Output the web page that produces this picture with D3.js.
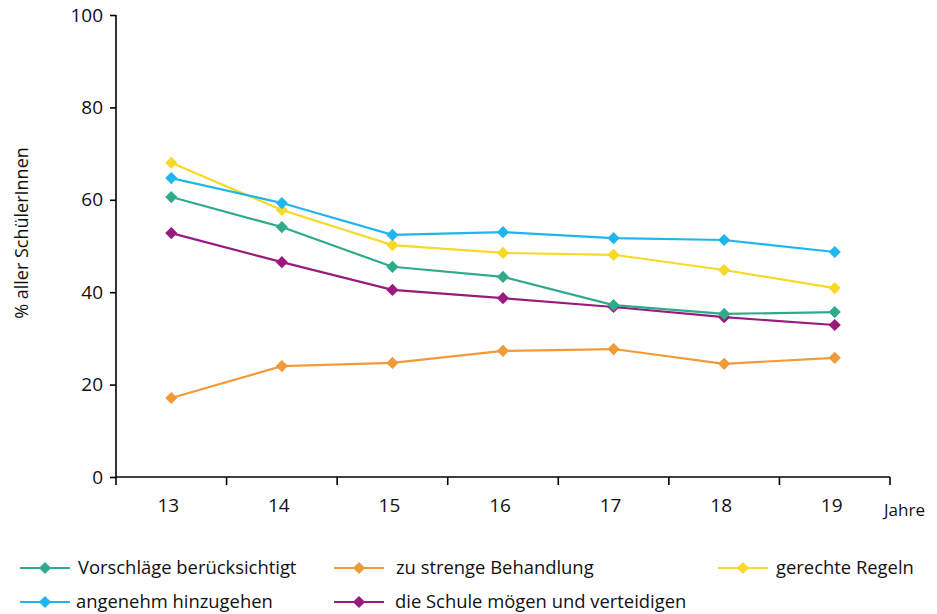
<!DOCTYPE html>
<html><head><meta charset="utf-8">
<script src="https://cdn.jsdelivr.net/npm/d3@7"></script>
<style>body{margin:0;background:#fff}svg{display:block}text{font-family:"Open Sans","Noto Sans",sans-serif;fill:#111}</style>
</head><body><svg id="c" width="937" height="614"></svg>
<script>
const categories = ["13","14","15","16","17","18","19"];
const seriesNames = ["Vorschläge berücksichtigt","zu strenge Behandlung","gerechte Regeln","angenehm hinzugehen","die Schule mögen und verteidigen"];
const vorschlaege = [60.6,54.1,45.5,43.3,37.2,35.3,35.7];
const streng = [17.1,24.0,24.7,27.3,27.7,24.5,25.8];
const gerecht = [68.0,57.8,50.2,48.5,48.1,44.8,40.9];
const angenehm = [64.7,59.3,52.4,53.0,51.7,51.3,48.7];
const moegen = [52.8,46.5,40.5,38.7,36.8,34.6,32.9];
const yTicks = [0,20,40,60,80,100];
const colors = ["#2fab8b","#f09a3a","#f8d927","#1fb6ee","#9a1b7f"];
const allSeries = [vorschlaege,streng,gerecht,angenehm,moegen];

const svg = d3.select("#c");
const x = d3.scaleBand().domain(categories).range([116,890]);
const y = d3.scaleLinear().domain([0,100]).range([477,15]);

// y axis
const ya = svg.append("g").attr("transform","translate(116,0)")
  .call(d3.axisLeft(y).tickValues(yTicks).tickSize(6).tickPadding(7));
ya.select(".domain").attr("stroke","#000").attr("stroke-width",1.6).attr("d","M0,15V477");
ya.selectAll(".tick line").attr("stroke","#000").attr("stroke-width",1.6);
ya.selectAll(".tick text").style("font-size","19px").attr("fill","#111");

// x axis
const xa = svg.append("g").attr("transform","translate(0,477)")
  .call(d3.axisBottom(x).tickSize(0).tickPadding(22));
xa.select(".domain").attr("stroke","#000").attr("stroke-width",1.6).attr("d","M116,0H890");
xa.selectAll(".tick text").style("font-size","19px").attr("fill","#111").attr("dx","-3");
const edges = categories.map(c=>x(c)+x.bandwidth()).concat([x(categories[0])]);
xa.selectAll("line.edge").data(edges).enter().append("line")
  .attr("x1",d=>d).attr("x2",d=>d).attr("y1",0).attr("y2",8).attr("stroke","#000").attr("stroke-width",1.6);
svg.append("text").attr("x",884).attr("y",516).attr("text-anchor","start").style("font-size","17px").text("Jahre");

svg.append("text").attr("transform","translate(28,233) rotate(-90)").attr("text-anchor","middle")
  .style("font-size","18px").text("% aller SchülerInnen");

const line = d3.line().x((d,i)=>x(categories[i])+x.bandwidth()/2).y(d=>y(d));
const diamond = d3.symbol().type(d3.symbolDiamond2).size(95);
// draw order: orange, purple, green, yellow, blue
const order = [1,4,0,2,3];
order.forEach(si=>{
  const g = svg.append("g");
  g.append("path").datum(allSeries[si]).attr("d",line).attr("fill","none").attr("stroke",colors[si]).attr("stroke-width",2.2);
  g.selectAll("path.m").data(allSeries[si]).enter().append("path").attr("class","m")
    .attr("d",diamond).attr("fill",colors[si])
    .attr("transform",(d,i)=>`translate(${x(categories[i])+x.bandwidth()/2},${y(d)})`);
});

// legend
const legPos = [[20,568,78],[334,568,396],[718,568,776],[20,602,76],[334,602,395]];
seriesNames.forEach((n,si)=>{
  const [lx,ly,tx] = legPos[si];
  const g = svg.append("g");
  g.append("line").attr("x1",lx).attr("x2",lx+50).attr("y1",ly).attr("y2",ly).attr("stroke",colors[si]).attr("stroke-width",2.2);
  g.append("path").attr("d",diamond).attr("fill",colors[si]).attr("transform",`translate(${lx+25},${ly})`);
  g.append("text").attr("x",tx).attr("y",ly).attr("dy","0.35em").style("font-size","18.4px").text(n);
});
</script></body></html>
